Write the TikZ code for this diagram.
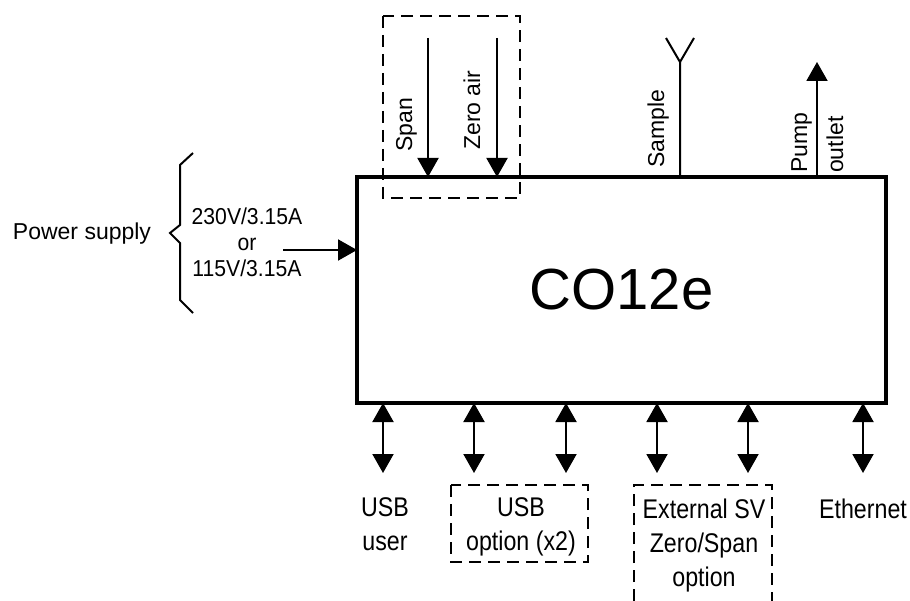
\documentclass[tikz,border=0pt]{standalone}
\usepackage{fontspec}
\setmainfont{Liberation Sans}
\newfontfamily\narrowfont{Liberation Sans}[FakeStretch=0.86]
\newfontfamily\semifont{Liberation Sans}[FakeStretch=0.92]
\usetikzlibrary{arrows.meta}
\tikzset{
  tip/.tip={Triangle[length=19pt,width=21pt]},
  conn/.style={line width=2pt,-tip},
  biconn/.style={line width=2pt,tip-tip},
  dashbox/.style={line width=2pt,dash pattern=on 12pt off 7pt},
  vlabel/.style={rotate=90,anchor=base west,inner sep=0pt,font=\fontsize{23}{26}\selectfont},
  blabel/.style={anchor=base,inner sep=0pt,align=center,font=\narrowfont\fontsize{27}{34}\selectfont},
}
\begin{document}
\begin{tikzpicture}[x=1pt,y=-1pt]
\useasboundingbox (0,0) rectangle (910,601);
% main box
\node[draw,line width=3.5pt,minimum width=529pt,minimum height=226pt,inner sep=0pt,outer sep=0pt,
  font=\fontsize{58}{60}\selectfont] (box) at (621.5,290) {CO12e};
% top dashed box
\draw[dashbox] (383,16) rectangle (520,198);
\coordinate (spanstart) at (428,38);
\coordinate (zerostart) at (497,38);
\draw[conn] (spanstart) -- (spanstart |- box.north);
\draw[conn] (zerostart) -- (zerostart |- box.north);
\node[vlabel] (span) at (412,152) {Span};
\node[vlabel] (zero) at (480,150) {Zero air};
% sample
\coordinate (sy) at (680,62);
\coordinate (syl) at (666,38);
\coordinate (syr) at (694,38);
\draw[line width=2pt] (box.north -| sy) -- (sy) -- (syl);
\draw[line width=2pt] (sy) -- (syr);
\node[vlabel] (sample) at (664,168) {Sample};
% pump outlet
\coordinate (pumpend) at (817,62);
\draw[conn] (box.north -| pumpend) -- (pumpend);
\node[vlabel] (pump) at (807,173) {Pump};
\node[vlabel] (outlet) at (843,173) {outlet};
% power supply
\node[anchor=base,inner sep=0pt,font=\fontsize{23}{26}\selectfont] (power) at (82,240) {Power supply};
\draw[line width=2pt] (193,153) -- (180,165) -- (180,225) -- (170,233) -- (180,243) -- (180,300) -- (193,313);
\node[anchor=base,inner sep=0pt,align=center,font=\semifont\fontsize{23}{26}\selectfont] (volt) at (247,277) {230V/3.15A\\or\\115V/3.15A};
\coordinate (pwstart) at (283,250);
\draw[conn] (pwstart) -- (pwstart -| box.west);
% bottom connectors
\foreach \n/\x in {a/383,b/474,c/566,d/657,e/748,f/863}{
  \coordinate (bot\n) at (\x,473);
  \draw[biconn] (box.south -| bot\n) -- (bot\n);
}
\node[blabel] (usbuser) at (385,550) {USB\\user};
\draw[dashbox] (451,485) rectangle (588,562);
\node[blabel] (usbopt) at (521,550) {USB\\option (x2)};
\draw[dashbox] (634,601) -- (634,485) -- (772,485) -- (772,601);
\node[blabel] (ext) at (704,586) {External SV\\Zero/Span\\option};
\node[blabel] (eth) at (863,518) {Ethernet};
\end{tikzpicture}
\end{document}
